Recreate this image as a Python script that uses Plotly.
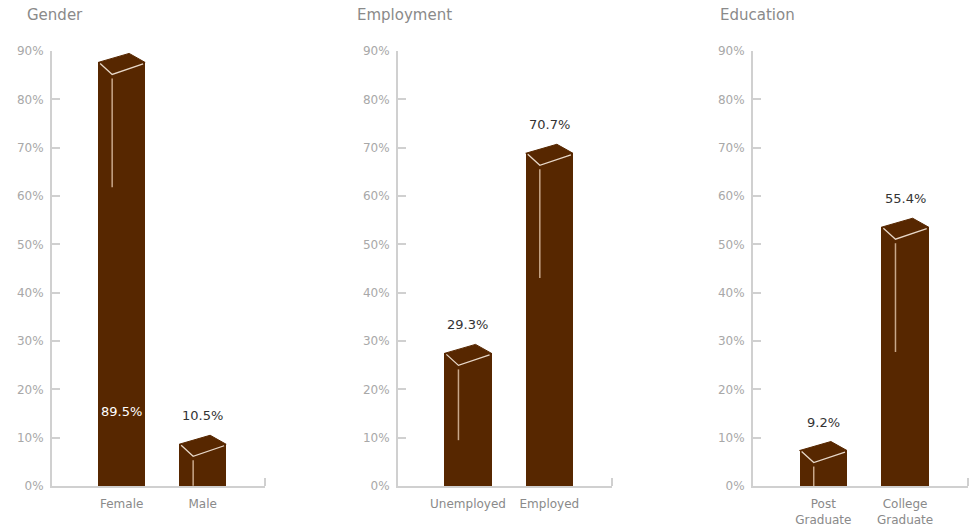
import plotly.graph_objects as go

# ---- data ----
panel_titles = ["Gender", "Employment", "Education"]
categories = [
    ["Female", "Male"],
    ["Unemployed", "Employed"],
    ["Post<br>Graduate", "College<br>Graduate"],
]
values = [
    [89.5, 10.5],
    [29.3, 70.7],
    [9.2, 55.4],
]
tick_vals = [0, 10, 20, 30, 40, 50, 60, 70, 80, 90]
tick_text = [f"{v}%" for v in tick_vals]

# ---- style ----
W, H = 973, 527
BAR = "#572700"
AXIS = "#d0d0d0"
FONT = "'DejaVu Sans', Verdana, sans-serif"
domains = [[52 / W, 265 / W], [398 / W, 612 / W], [753 / W, 968 / W]]
title_px = [25, 355, 718]
ydom = [(527 - 486) / H, (527 - 51) / H]
XR = [-0.86, 1.77]
YR = [0, 90]
BW = 0.58

px_per_unit_y = (486 - 51) / 90.0
px_per_unit_x = 213 / (XR[1] - XR[0])
def dy(px):
    return px / px_per_unit_y
def dx(px):
    return px / px_per_unit_x

fig = go.Figure()
shapes = []
annotations = []

for i in range(3):
    xa = "x" if i == 0 else f"x{i+1}"
    ya = "y" if i == 0 else f"y{i+1}"
    xs = list(range(len(categories[i])))
    body = [v - dy(9) for v in values[i]]
    fig.add_trace(go.Bar(
        x=xs, y=body, width=BW, marker=dict(color=BAR, line=dict(width=0)),
        xaxis=xa, yaxis=ya, showlegend=False, hoverinfo="skip",
    ))
    for j, v in enumerate(values[i]):
        x0 = j - BW / 2
        x1 = j + BW / 2
        yc = v - dy(9)
        xp = x0 + dx(31)
        xf = x0 + dx(14)
        yf = v - dy(21)
        # top face
        shapes.append(dict(
            type="path", xref=xa, yref=ya,
            path=f"M {x0},{yc} L {xp},{v} L {x1},{yc} L {xf},{yf} Z",
            fillcolor=BAR, line=dict(color=BAR, width=1), layer="above",
        ))
        # front edges (highlight)
        shapes.append(dict(
            type="path", xref=xa, yref=ya,
            path=f"M {x0 + dx(2)},{yc - dy(1)} L {xf},{yf} L {x1 - dx(2)},{yc - dy(1.5)}",
            line=dict(color="#e8d8c8", width=1.3), layer="above",
        ))
        # vertical front edge highlight
        ln = min(v / 2.0, 22.5)
        shapes.append(dict(
            type="line", xref=xa, yref=ya,
            x0=xf, x1=xf, y0=yf - dy(4), y1=yf - dy(4) - ln,
            line=dict(color="#c9a88a", width=1.5), layer="above",
        ))
        # value labels
        if v > 80:
            other = min(values[i])
            annotations.append(dict(
                x=j, y=other, xref=xa, yref=ya, text=f"{v}%",
                showarrow=False, yshift=14, yanchor="bottom",
                font=dict(family=FONT, size=13, color="#ffffff"),
            ))
        else:
            annotations.append(dict(
                x=j, y=v, xref=xa, yref=ya, text=f"{v}%",
                showarrow=False, yshift=10, yanchor="bottom",
                font=dict(family=FONT, size=13, color="#333333"),
            ))
    # end tick of x axis
    shapes.append(dict(
        type="line", xref=f"{xa} domain", yref=f"{ya} domain",
        x0=1, x1=1, y0=0, y1=dy(8) / 90,
        line=dict(color=AXIS, width=2),
    ))
    # panel title
    annotations.append(dict(
        x=title_px[i] / W, y=1 - 15 / H, xref="paper", yref="paper",
        text=panel_titles[i], showarrow=False, xanchor="left", yanchor="middle",
        font=dict(family=FONT, size=15, color="#8a8a8a"),
    ))
    axis_x = dict(
        domain=domains[i], range=XR, showgrid=False, zeroline=False,
        showline=True, linecolor=AXIS, linewidth=2,
        tickmode="array", tickvals=xs, ticktext=categories[i],
        ticks="", tickfont=dict(family=FONT, size=12, color="#8a8a8a"),
        ticklabelstandoff=6,
        anchor=ya, fixedrange=True, automargin=False,
    )
    axis_y = dict(
        domain=ydom, range=YR, showgrid=False, zeroline=False,
        showline=True, linecolor=AXIS, linewidth=2,
        tickmode="array", tickvals=tick_vals, ticktext=tick_text,
        ticks="inside", ticklen=8, tickwidth=1.5, tickcolor=AXIS,
        tickfont=dict(family=FONT, size=12, color="#a8a8a8"),
        ticklabelstandoff=4,
        anchor=xa, fixedrange=True, automargin=False,
    )
    key = "" if i == 0 else str(i + 1)
    fig.update_layout(**{f"xaxis{key}": axis_x, f"yaxis{key}": axis_y})

fig.update_layout(
    template="none",
    width=W, height=H, margin=dict(l=0, r=0, t=0, b=0, autoexpand=False),
    paper_bgcolor="white", plot_bgcolor="white",
    shapes=shapes, annotations=annotations, bargap=0,
    showlegend=False,
)
fig.write_html("out.html", config={"displayModeBar": False})
